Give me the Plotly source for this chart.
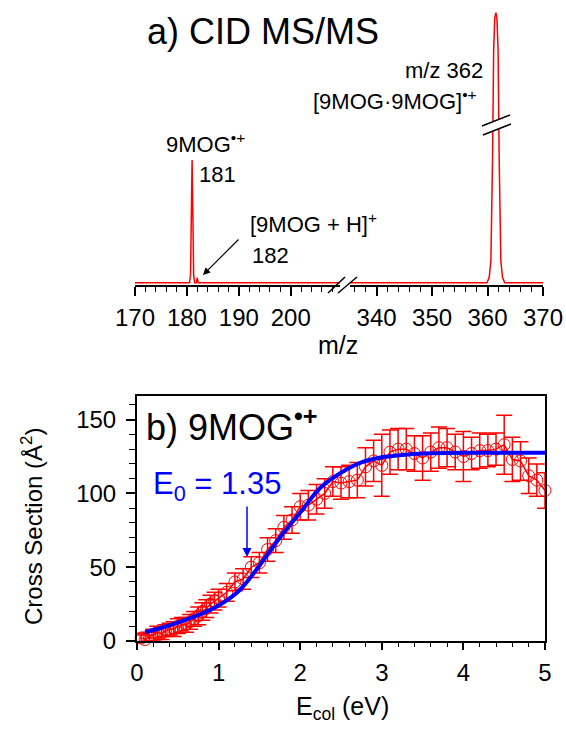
import plotly.graph_objects as go

W, H = 566, 733
def fx(px): return px / W
def fy(py): return 1 - py / H

# ---------------- panel a) data ----------------
spec_left_mz = [170, 180.5, 180.7, 180.85, 181.0, 181.15, 181.3, 181.5, 181.8, 182.0, 182.2, 209.5]
spec_left_int = [0, 0, 0.03, 0.25, 0.45, 0.25, 0.03, 0, 0, 0.018, 0, 0]
spec_right_mz = [335.2, 359.9, 360.3, 360.6, 360.9, 361.1, 361.3, 361.5, 361.7, 361.9, 362.1, 362.4, 362.7, 363.1, 370]
spec_right_int = [0, 0, 0.02, 0.08, 0.45, 0.85, 0.97, 0.99, 0.97, 0.85, 0.45, 0.08, 0.02, 0, 0]
ticks_left = [170, 180, 190, 200]
ticks_right = [340, 350, 360, 370]

# ---------------- panel b) data ----------------
energy = [0.05, 0.1, 0.15, 0.2, 0.25, 0.3, 0.35, 0.4, 0.45, 0.5,
          0.55, 0.6, 0.65, 0.7, 0.75, 0.8, 0.85, 0.9, 0.95, 1.0,
          1.1, 1.2, 1.3, 1.4, 1.5, 1.6, 1.7, 1.8, 1.9, 2.0,
          2.1, 2.2, 2.3, 2.4, 2.5, 2.6, 2.7, 2.8, 2.9, 3.0,
          3.1, 3.2, 3.3, 3.4, 3.5, 3.6, 3.7, 3.8, 3.9, 4.0,
          4.1, 4.2, 4.3, 4.4, 4.5, 4.6, 4.7, 4.8, 4.9, 5.0]
cross_section = [2, 1, 3, 4, 6, 5, 7, 8, 8, 10,
                 11, 11, 13, 15, 17, 20, 22, 25, 27, 29,
                 33, 40, 42, 50, 53, 62, 68, 77, 82, 91,
                 92, 96, 100, 108, 107, 108, 109, 118, 122, 119,
                 128, 130, 130, 127, 124, 128, 131, 131, 128, 125,
                 127, 129, 129, 130, 133, 123, 122, 112, 109, 102]
cross_err = [3, 3, 3, 4, 4, 4, 4, 4, 5, 5,
             5, 5, 5, 5, 6, 6, 6, 6, 6, 6,
             6, 6, 7, 7, 7, 8, 8, 8, 9, 9,
             10, 10, 10, 10, 11, 11, 12, 13, 14, 21,
             15, 14, 14, 12, 15, 13, 14, 13, 12, 17,
             11, 12, 11, 11, 20, 15, 13, 12, 11, 12]
fit_energy = [0.1, 0.3, 0.5, 0.75, 1.0, 1.25, 1.5, 1.75, 2.0, 2.25, 2.5, 2.75, 3.0, 3.25, 3.5, 4.0, 4.5, 5.0]
fit_cross = [6, 9, 12.5, 17.5, 24, 34, 51, 70, 87, 104, 114, 121, 124.5, 126, 127, 127.5, 127.5, 127.5]

FONT = "Arial, Liberation Sans, sans-serif"
RED = "#ff0000"
BLUE = "#0000ff"

fig = go.Figure()
fig.add_trace(go.Scatter(x=spec_left_mz, y=spec_left_int, mode="lines",
                         line=dict(color=RED, width=1.5), xaxis="x", yaxis="y",
                         showlegend=False, hoverinfo="skip"))
fig.add_trace(go.Scatter(x=spec_right_mz, y=spec_right_int, mode="lines",
                         line=dict(color=RED, width=1.5), xaxis="x3", yaxis="y",
                         showlegend=False, hoverinfo="skip"))
fig.add_trace(go.Scatter(x=energy, y=cross_section, mode="lines+markers",
                         line=dict(color=RED, width=1.5),
                         marker=dict(symbol="circle-open", size=12, color=RED, line=dict(width=1)),
                         error_y=dict(type="data", array=cross_err, color=RED, thickness=1.5, width=8),
                         xaxis="x2", yaxis="y2", cliponaxis=False, showlegend=False))
fig.add_trace(go.Scatter(x=fit_energy, y=fit_cross, mode="lines",
                         line=dict(color=BLUE, width=4, shape="spline"),
                         xaxis="x2", yaxis="y2", showlegend=False))

axis_common = dict(showline=True, linecolor="black", linewidth=2, showgrid=False,
                   zeroline=False, ticks="outside", tickcolor="black", tickwidth=1.5,
                   automargin=False,
                   tickfont=dict(family=FONT, size=24, color="black"))

fig.update_layout(
    template="none",
    width=W, height=H,
    margin=dict(l=0, r=0, t=0, b=0, pad=0, autoexpand=False),
    paper_bgcolor="white", plot_bgcolor="white",
    font=dict(family=FONT, color="black"),
    showlegend=False,
    xaxis=dict(domain=[fx(135), fx(340)], range=[170, 209.5], anchor="y",
               tickvals=ticks_left, ticklen=9, ticklabelstandoff=1,
               minor=dict(tick0=170, dtick=2, ticklen=5, tickwidth=1.2, ticks="outside", tickcolor="black"),
               **axis_common),
    xaxis3=dict(domain=[fx(350), fx(543)], range=[335.2, 370], anchor="y",
                tickvals=ticks_right, ticklen=9, ticklabelstandoff=1,
                minor=dict(tick0=340, dtick=2, ticklen=5, tickwidth=1.2, ticks="outside", tickcolor="black"),
                **axis_common),
    yaxis=dict(domain=[fy(285), fy(10)], range=[-0.008, 1], visible=False),
    xaxis2=dict(domain=[fx(137), fx(545)], range=[0, 5], anchor="y2", dtick=1, mirror=True,
                ticklen=7, ticklabelstandoff=2,
                minor=dict(dtick=0.2, ticklen=4, tickwidth=1.2, ticks="outside", tickcolor="black"),
                **axis_common),
    yaxis2=dict(domain=[fy(641), fy(396)], range=[0, 166], anchor="x2", tickvals=[0, 50, 100, 150],
                mirror=True, ticklen=9, ticklabelstandoff=5,
                minor=dict(dtick=10, ticklen=6, tickwidth=1.2, ticks="outside", tickcolor="black"),
                **axis_common),
)

def ann(text, x, y, size, color="black", **kw):
    d = dict(text=text, x=fx(x), y=fy(y), xref="paper", yref="paper", showarrow=False,
             font=dict(family=FONT, size=size, color=color), xanchor="center", yanchor="middle")
    d.update(kw)
    fig.add_annotation(**d)

ann("a) CID MS/MS", 263, 32, 36)
ann("9MOG<sup>•+</sup>", 205, 143, 22)
ann("181", 217, 175, 22)
ann("[9MOG + H]<sup>+</sup>", 314, 223, 22)
ann("182", 270, 255, 22)
ann("m/z 362", 444, 70, 22)
ann("[9MOG·9MOG]<sup>•+</sup>", 395, 100, 22)
ann("m/z", 338, 345, 25)
ann("b) 9MOG<sup><b>•+</b></sup>", 232, 425, 36)
ann("E<sub>0</sub> = 1.35", 217, 486, 31, color=BLUE)
ann("Cross Section (Å<sup>2</sup>)", 32, 527, 24, textangle=-90)
ann("E<sub>col</sub> (eV)", 342, 708, 25)

# arrows
fig.add_annotation(x=fx(203), y=fy(275), xref="paper", yref="paper", text="", showarrow=True,
                   ax=37, ay=-37, arrowhead=2, arrowsize=1.2, arrowwidth=1.2, arrowcolor="black")
fig.add_annotation(x=fx(247), y=fy(557), xref="paper", yref="paper", text="", showarrow=True,
                   ax=0, ay=-52, arrowhead=2, arrowsize=1.2, arrowwidth=1.5, arrowcolor=BLUE)

# axis break marks
def seg(x0, y0, x1, y1, w=1.5):
    fig.add_shape(type="line", xref="paper", yref="paper", x0=fx(x0), y0=fy(y0), x1=fx(x1), y1=fy(y1),
                  line=dict(color="black", width=w), layer="above")

seg(328, 293, 345, 277)
seg(338, 293, 357, 277)
fig.add_shape(type="path", xref="paper", yref="paper",
              path=f"M {fx(482)} {fy(126)} L {fx(512)} {fy(115)} L {fx(512)} {fy(124)} L {fx(482)} {fy(135)} Z",
              fillcolor="white", line=dict(width=0), layer="above")
seg(482, 126, 510, 115)
seg(483, 135, 511, 124)

fig.write_html("out.html", config={"displayModeBar": False},
               post_script="document.body.style.margin='0';document.body.style.overflow='hidden';")
